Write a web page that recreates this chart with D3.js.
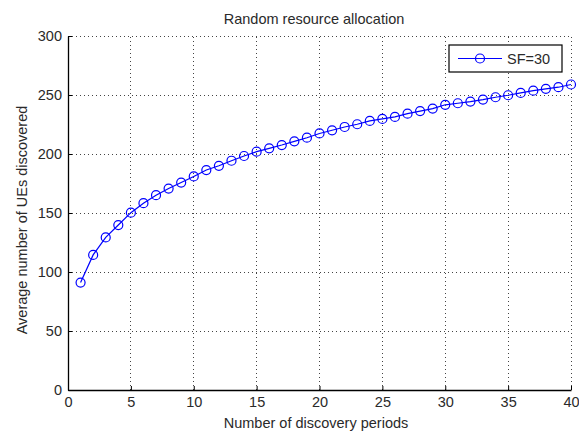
<!DOCTYPE html>
<html>
<head>
<meta charset="utf-8">
<script src="https://cdn.jsdelivr.net/npm/d3@7"></script>
<style>
  html, body { margin: 0; padding: 0; background: #fff; }
  svg { display: block; }
  text { font-family: "Liberation Sans", Arial, sans-serif; fill: #2a2a2a; }
</style>
</head>
<body>
<svg id="chart" width="579" height="431"></svg>
<script>
const periods = d3.range(1, 41);
const ueDiscovered = [91, 114.5, 129.3, 139.8, 150.3, 158.3, 165.1, 170.7, 175.8, 181,
  186.4, 190, 194.3, 198.3, 202, 204.8, 207.6, 210.7, 213.8, 217.4,
  220.1, 222.9, 225.2, 228, 229.7, 231.4, 234.2, 236.4, 238.5, 241.7,
  243, 244.4, 246.1, 248.1, 249.8, 251.8, 253.7, 255.2, 256.6, 258.9];
const xTicks = [0, 5, 10, 15, 20, 25, 30, 35, 40];
const yTicks = [0, 50, 100, 150, 200, 250, 300];
const seriesName = "SF=30";
const titleText = "Random resource allocation";
const xLabel = "Number of discovery periods";
const yLabel = "Average number of UEs discovered";

const svg = d3.select("#chart");
const L = 68, R = 571, T = 36, B = 390;
const x = d3.scaleLinear().domain([0, 40]).range([L, R]);
const y = d3.scaleLinear().domain([0, 300]).range([B, T]);

// grid
const grid = svg.append("g").attr("stroke", "#444").attr("stroke-width", 1)
  .attr("stroke-dasharray", "1,3").attr("shape-rendering", "crispEdges");
xTicks.filter(d => d > 0).forEach(d => {
  grid.append("line").attr("x1", x(d)).attr("x2", x(d)).attr("y1", B).attr("y2", T);
});
yTicks.filter(d => d > 0).forEach(d => {
  grid.append("line").attr("x1", L).attr("x2", R).attr("y1", y(d)).attr("y2", y(d));
});

// axes
const xAxis = d3.axisBottom(x).tickValues(xTicks).tickSizeInner(-4).tickSizeOuter(0).tickPadding(7);
const yAxis = d3.axisLeft(y).tickValues(yTicks).tickSizeInner(-4).tickSizeOuter(0).tickPadding(6);
const gx = svg.append("g").attr("transform", `translate(0,${B})`).call(xAxis);
const gy = svg.append("g").attr("transform", `translate(${L},0)`).call(yAxis);
[gx, gy].forEach(g => {
  g.select(".domain").attr("stroke", "#000").attr("stroke-width", 1.3);
  g.selectAll(".tick line").attr("stroke", "#000");
  g.selectAll(".tick text").attr("font-size", 14.5).attr("fill", "#2a2a2a")
    .attr("font-family", "'Liberation Sans', Arial, sans-serif");
});

// line + markers
const line = d3.line().x((d, i) => x(periods[i])).y(d => y(d));
svg.append("path").datum(ueDiscovered).attr("d", line)
  .attr("fill", "none").attr("stroke", "#0000ff").attr("stroke-width", 1.2);
svg.append("g").selectAll("circle").data(ueDiscovered).join("circle")
  .attr("cx", (d, i) => x(periods[i])).attr("cy", d => y(d)).attr("r", 4.5)
  .attr("fill", "none").attr("stroke", "#0000ff").attr("stroke-width", 1.2);

// title and labels
svg.append("text").attr("x", 314).attr("y", 24).attr("text-anchor", "middle")
  .attr("font-size", 14.5).text(titleText);
svg.append("text").attr("x", 316).attr("y", 428).attr("text-anchor", "middle")
  .attr("font-size", 14.5).text(xLabel);
svg.append("text").attr("transform", `translate(27,220) rotate(-90)`)
  .attr("text-anchor", "middle").attr("font-size", 14.5).text(yLabel);

// legend
const lg = svg.append("g");
lg.append("rect").attr("x", 449).attr("y", 45).attr("width", 113).attr("height", 27)
  .attr("fill", "#fff").attr("stroke", "#000").attr("stroke-width", 1.2);
lg.append("line").attr("x1", 458).attr("x2", 502).attr("y1", 58.5).attr("y2", 58.5)
  .attr("stroke", "#0000ff").attr("stroke-width", 1.2);
lg.append("circle").attr("cx", 480).attr("cy", 58.5).attr("r", 4.5)
  .attr("fill", "none").attr("stroke", "#0000ff").attr("stroke-width", 1.2);
lg.append("text").attr("x", 507).attr("y", 64).attr("font-size", 14.5).text(seriesName);
</script>
</body>
</html>
